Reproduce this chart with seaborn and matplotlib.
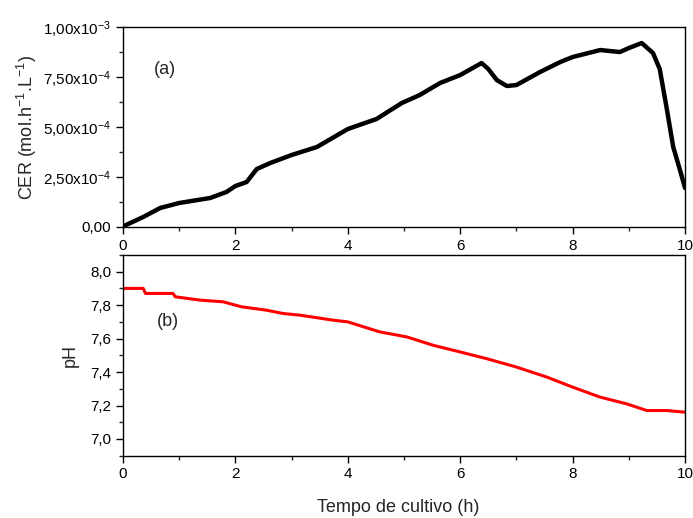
import numpy as np
import pandas as pd
import matplotlib
matplotlib.use("Agg")
import matplotlib.pyplot as plt
from matplotlib.ticker import MultipleLocator, FixedLocator, FixedFormatter
import seaborn as sns

# ---- data ----
cer_time = [0.0, 0.36, 0.66, 1.0, 1.55, 1.84, 2.0, 2.2, 2.38, 2.62, 3.0, 3.45, 4.0,
            4.51, 4.96, 5.28, 5.64, 6.0, 6.38, 6.5, 6.65, 6.83, 7.0, 7.42, 7.78,
            8.0, 8.49, 8.84, 9.0, 9.23, 9.43, 9.55, 9.67, 9.79, 9.91, 10.0]
cer_values = [0.03e-4, 0.5e-4, 0.95e-4, 1.2e-4, 1.45e-4, 1.75e-4, 2.05e-4, 2.25e-4,
              2.9e-4, 3.2e-4, 3.6e-4, 4.0e-4, 4.9e-4, 5.4e-4, 6.2e-4, 6.6e-4,
              7.2e-4, 7.6e-4, 8.2e-4, 7.9e-4, 7.35e-4, 7.05e-4, 7.1e-4, 7.75e-4,
              8.25e-4, 8.5e-4, 8.85e-4, 8.75e-4, 8.95e-4, 9.2e-4, 8.7e-4, 7.9e-4,
              6.0e-4, 4.0e-4, 2.85e-4, 1.95e-4]

ph_time = [0.0, 0.36, 0.4, 0.89, 0.93, 1.37, 1.78, 2.11, 2.55, 2.85, 3.15, 3.74, 4.0,
           4.57, 5.05, 5.52, 6.0, 6.47, 7.0, 7.54, 8.0, 8.49, 8.96, 9.32, 9.67, 10.0]
ph_values = [7.90, 7.90, 7.87, 7.87, 7.85, 7.83, 7.82, 7.79, 7.77, 7.75, 7.74, 7.71,
             7.70, 7.64, 7.61, 7.56, 7.52, 7.48, 7.43, 7.37, 7.31, 7.25, 7.21, 7.17,
             7.17, 7.16]

x_ticks = [0, 2, 4, 6, 8, 10]
cer_ticks = [0.0, 2.5e-4, 5.0e-4, 7.5e-4, 1.0e-3]
cer_tick_labels = ["0,00", r"2,50x10$^{-4}$", r"5,00x10$^{-4}$",
                   r"7,50x10$^{-4}$", r"1,00x10$^{-3}$"]
ph_ticks = [7.0, 7.2, 7.4, 7.6, 7.8, 8.0]
ph_tick_labels = ["7,0", "7,2", "7,4", "7,6", "7,8", "8,0"]

cer_df = pd.DataFrame({"t": cer_time, "CER": cer_values})
ph_df = pd.DataFrame({"t": ph_time, "pH": ph_values})

# ---- styling ----
sns.set_style("ticks")
plt.rcParams["font.family"] = ["Liberation Sans", "DejaVu Sans"]
plt.rcParams["mathtext.default"] = "regular"
plt.rcParams["axes.linewidth"] = 1.0

fig = plt.figure(figsize=(6.93, 5.18), dpi=100)
ax1 = fig.add_axes([0.1775, 0.5618, 0.811, 0.386])
ax2 = fig.add_axes([0.1775, 0.1203, 0.811, 0.3875])
ax2.set_zorder(3)
ax2.set_facecolor("white")

sns.lineplot(data=cer_df, x="t", y="CER", ax=ax1, color="black", linewidth=3.2)
sns.lineplot(data=ph_df, x="t", y="pH", ax=ax2, color="red", linewidth=2.2)

for ax in (ax1, ax2):
    ax.set_xlim(0, 10)
    ax.xaxis.set_major_locator(FixedLocator(x_ticks))
    ax.xaxis.set_minor_locator(MultipleLocator(1))
    ax.tick_params(which="major", direction="out", length=5, width=1,
                   labelsize=11, colors="black", top=False, right=False)
    ax.tick_params(which="minor", direction="out", length=3, width=1,
                   top=False, right=False)
    for s in ax.spines.values():
        s.set_visible(True)
        s.set_color("black")
        s.set_linewidth(1.0)

ax1.set_ylim(0, 1.0e-3)
ax1.yaxis.set_major_locator(FixedLocator(cer_ticks))
ax1.yaxis.set_major_formatter(FixedFormatter(cer_tick_labels))
ax1.yaxis.set_minor_locator(MultipleLocator(1.25e-4))
ax1.set_xlabel("")
ax1.set_ylabel(r"CER (mol.h$^{-1}$.L$^{-1}$)", fontsize=13)
ax1.yaxis.set_label_coords(-0.15, 0.5)
ax1.text(0.55, 7.9e-4, "(a)", fontsize=13, va="center")

ax2.set_ylim(6.9, 8.1)
ax2.yaxis.set_major_locator(FixedLocator(ph_ticks))
ax2.yaxis.set_major_formatter(FixedFormatter(ph_tick_labels))
ax2.yaxis.set_minor_locator(MultipleLocator(0.1))
ax2.set_xlabel("Tempo de cultivo (h)", fontsize=13)
ax2.xaxis.set_label_coords(0.49, -0.215)
ax2.set_ylabel("pH", fontsize=13)
ax2.yaxis.set_label_coords(-0.078, 0.5)
ax2.text(0.6, 7.70, "(b)", fontsize=13, va="center")

fig.savefig("out.png", dpi=100)
